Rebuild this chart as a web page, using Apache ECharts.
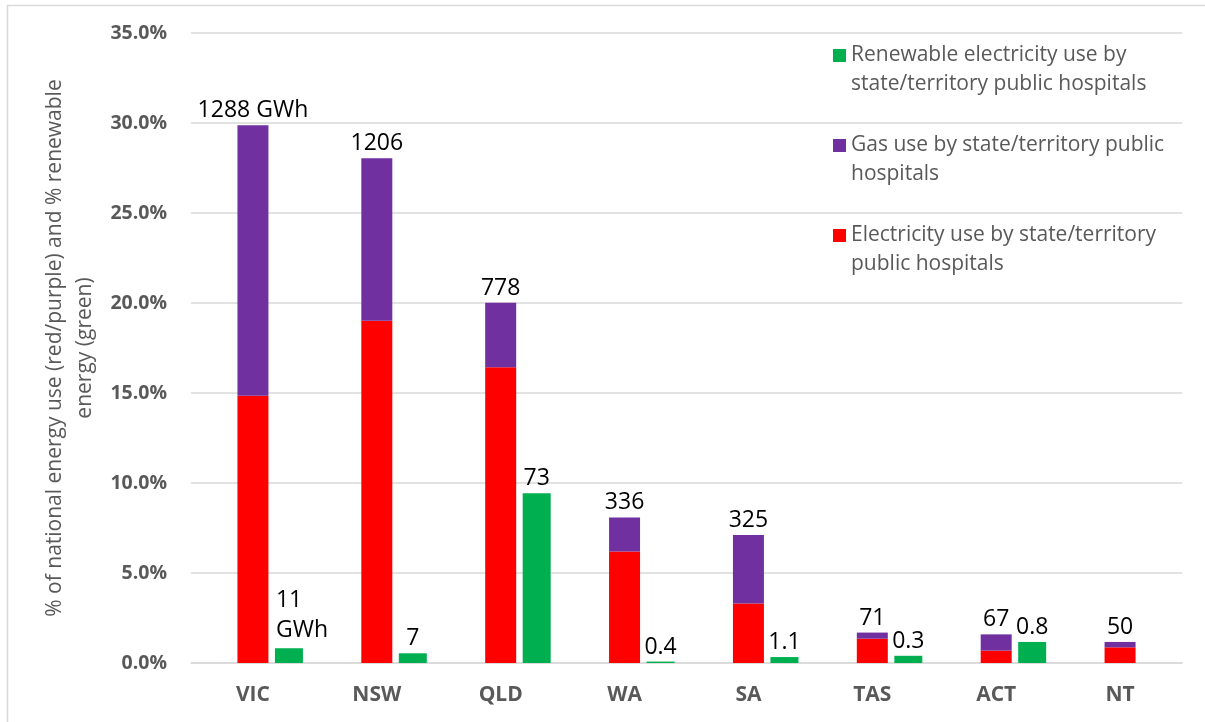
<!DOCTYPE html>
<html>
<head>
<meta charset="utf-8">
<script src="https://cdn.jsdelivr.net/npm/echarts@6/dist/echarts.min.js"></script>
<style>
  html, body { margin: 0; padding: 0; background: #fff; }
  #chart { width: 1205px; height: 722px; }
</style>
</head>
<body>
<div id="chart"></div>
<script>
// ---- data (values in % of national / % renewable) ----
const categories = ['VIC', 'NSW', 'QLD', 'WA', 'SA', 'TAS', 'ACT', 'NT'];
const electricityValues = [14.85, 19.02, 16.43, 6.20, 3.31, 1.35, 0.69, 0.87];
const gasValues = [15.02, 9.02, 3.59, 1.89, 3.80, 0.34, 0.90, 0.30];
const renewableValues = [0.82, 0.54, 9.43, 0.08, 0.33, 0.40, 1.17, null];
const totalLabels = ['1288 GWh', '1206', '778', '336', '325', '71', '67', '50'];
const renewableLabels = ['11\nGWh', '7', '73', '0.4', '1.1', '0.3', '0.8', ''];
const yTicks = [0, 5, 10, 15, 20, 25, 30, 35];

const seriesNames = {
  elec: 'Electricity use by state/territory public hospitals',
  gas: 'Gas use by state/territory public hospitals',
  ren: 'Renewable electricity use by state/territory public hospitals'
};
const legendText = {};
legendText[seriesNames.ren] = '\nRenewable electricity use by\nstate/territory public hospitals';
legendText[seriesNames.gas] = '\nGas use by state/territory public\nhospitals';
legendText[seriesNames.elec] = '\nElectricity use by state/territory\npublic hospitals';

const FONT = 'Open Sans';
const GRAY = '#595959';

const renewableData = renewableValues.map((v, i) => {
  const item = { value: v };
  if (renewableLabels[i].indexOf('\n') >= 0) {
    item.label = { align: 'left', offset: [-13, 0], lineHeight: 30 };
  }
  return item;
});

const chart = echarts.init(document.getElementById('chart'), null, { renderer: 'canvas' });
chart.setOption({
  animation: false,
  backgroundColor: '#ffffff',
  textStyle: { fontFamily: FONT },
  graphic: [{
    type: 'rect',
    silent: true,
    shape: { x: 7.5, y: 5.5, width: 1400, height: 900 },
    style: { fill: 'none', stroke: '#d9d9d9', lineWidth: 1.5 }
  }],
  grid: { left: 191, right: 23, top: 33, bottom: 59, containLabel: false },
  legend: {
    orient: 'vertical',
    left: 833,
    top: 12,
    padding: 0,
    itemWidth: 13,
    itemHeight: 13,
    itemGap: 3,
    icon: 'rect',
    data: [seriesNames.ren, seriesNames.gas, seriesNames.elec],
    formatter: name => legendText[name],
    textStyle: { fontFamily: FONT, fontSize: 21, lineHeight: 29, color: GRAY }
  },
  xAxis: [{
    type: 'category',
    data: categories,
    axisLine: { show: true, lineStyle: { color: '#d9d9d9', width: 1.5 } },
    axisTick: { show: false },
    axisLabel: { margin: 22, color: GRAY, fontWeight: 'bold', fontSize: 21, fontFamily: FONT }
  }, {
    type: 'category',
    data: categories,
    show: false
  }],
  yAxis: {
    type: 'value',
    min: 0,
    max: 35,
    interval: 5,
    name: '% of national energy use (red/purple) and % renewable\nenergy (green)',
    nameLocation: 'middle',
    nameGap: 89,
    nameTextStyle: { fontFamily: FONT, fontSize: 21, color: GRAY, lineHeight: 30 },
    axisLine: { show: false },
    axisTick: { show: false },
    splitLine: { lineStyle: { color: '#d9d9d9', width: 1.5 } },
    axisLabel: {
      margin: 24,
      color: GRAY,
      fontWeight: 'bold',
      fontSize: 19.5,
      fontFamily: FONT,
      formatter: v => (yTicks.indexOf(v) >= 0 ? v.toFixed(1) + '%' : '')
    }
  },
  series: [{
    name: seriesNames.elec,
    type: 'bar',
    stack: 'use',
    xAxisIndex: 0,
    barWidth: 31,
    itemStyle: { color: '#FF0000' },
    data: electricityValues
  }, {
    name: seriesNames.gas,
    type: 'bar',
    stack: 'use',
    xAxisIndex: 0,
    barWidth: 31,
    itemStyle: { color: '#7030A0' },
    data: gasValues,
    label: {
      show: true,
      position: 'top',
      distance: 3,
      color: '#000',
      fontFamily: FONT,
      fontSize: 23,
      formatter: p => totalLabels[p.dataIndex]
    }
  }, {
    name: 'spacer',
    type: 'bar',
    xAxisIndex: 1,
    barWidth: 72,
    silent: true,
    itemStyle: { color: 'rgba(0,0,0,0)' },
    data: []
  }, {
    name: seriesNames.ren,
    type: 'bar',
    xAxisIndex: 1,
    barWidth: 28,
    barGap: 0,
    itemStyle: { color: '#00B050' },
    data: renewableData,
    label: {
      show: true,
      position: 'top',
      distance: 3,
      color: '#000',
      fontFamily: FONT,
      fontSize: 23,
      formatter: p => renewableLabels[p.dataIndex]
    }
  }]
});
</script>
</body>
</html>
